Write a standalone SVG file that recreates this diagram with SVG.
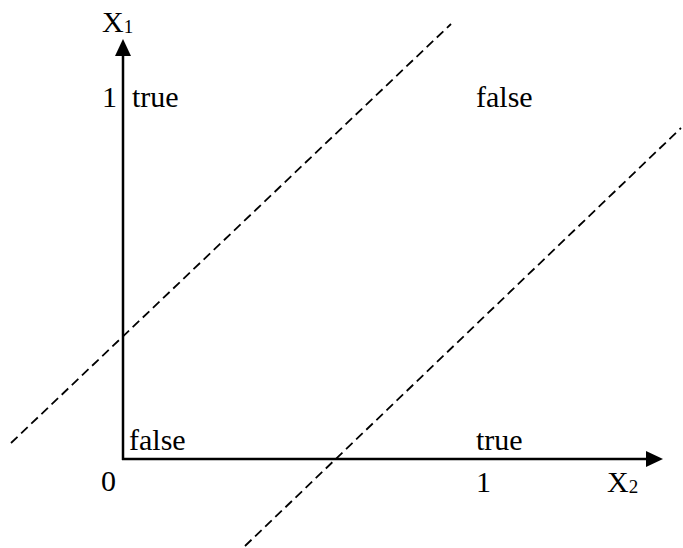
<svg xmlns="http://www.w3.org/2000/svg" width="683" height="548" viewBox="0 0 683 548">
<style>
text{font-family:"Liberation Serif","Times New Roman",serif;font-size:30px;fill:#000}
.sub{font-size:19px}
.axis{stroke:#000;stroke-width:2.5;fill:none}
.dash{stroke:#000;stroke-width:1.8;stroke-dasharray:9 5;fill:none}
</style>
<rect width="683" height="548" fill="#fff"/>
<g id="connectors">
<line class="dash" x1="11" y1="443" x2="451" y2="24"/>
<line class="dash" x1="245" y1="546" x2="681" y2="128"/>
<line class="axis" x1="123" y1="460" x2="123" y2="55"/>
<polygon points="123,39 115,56 131,56" fill="#000"/>
<line class="axis" x1="122" y1="459" x2="648" y2="459"/>
<polygon points="663,459 646,451 646,467" fill="#000"/>
</g>
<g id="axis-x1"><text x="102" y="32">X<tspan class="sub" dy="1">1</tspan></text></g>
<g id="axis-x2"><text x="607" y="492">X<tspan class="sub" dy="1">2</tspan></text></g>
<g id="tick-y1"><text x="102" y="107">1</text></g>
<g id="tick-0"><text x="101" y="491">0</text></g>
<g id="tick-x1"><text x="476" y="492">1</text></g>
<g id="label-01"><text x="132" y="107">true</text></g>
<g id="label-11"><text x="476" y="107">false</text></g>
<g id="label-00"><text x="129" y="450">false</text></g>
<g id="label-10"><text x="476" y="450">true</text></g>
</svg>
